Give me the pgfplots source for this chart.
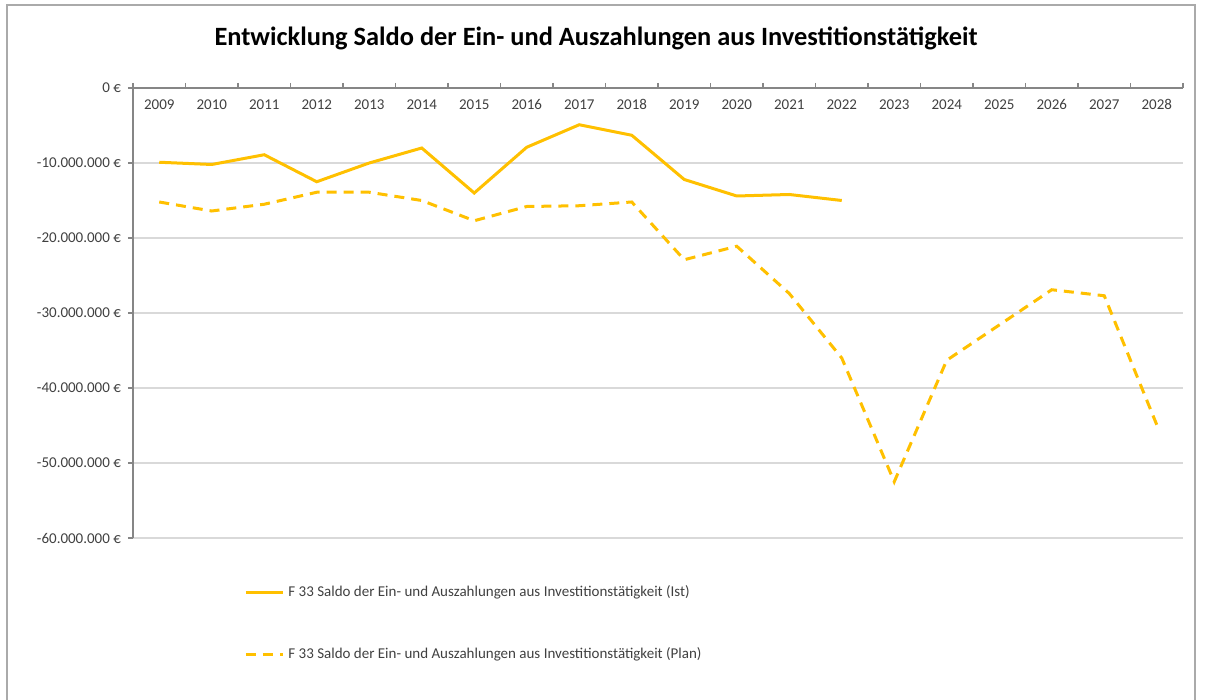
\documentclass[border=0pt]{standalone}
\usepackage{fontspec}
\setmainfont{Carlito}
\usepackage{pgfplots}
\pgfplotsset{compat=1.18}
\definecolor{gold}{RGB}{255,192,0}
\definecolor{axgray}{RGB}{134,134,134}
\definecolor{gridgray}{RGB}{217,217,217}
\definecolor{framegray}{RGB}{170,170,170}
\definecolor{txt}{RGB}{64,64,64}

\begin{document}
\begin{tikzpicture}
\useasboundingbox (-66.5pt,-81pt) rectangle (536.5pt,269pt);
\draw[framegray, line width=0.6pt] (-63pt,-90pt) -- (-63pt,266.5pt) -- (531pt,266.5pt) -- (531pt,-90pt);
\begin{axis}[
  scale only axis, width=525pt, height=225pt,
  xmin=-0.5, xmax=19.5, ymin=-60000000, ymax=0,
  axis x line*=top, axis y line*=left,
  axis line style={axgray, line width=0.6pt, -},
  tick align=outside, major tick length=2.5pt,
  tick style={axgray, line width=0.6pt},
  xtick={-0.5,0.5,...,19.5},
  xticklabels={2009,2010,2011,2012,2013,2014,2015,2016,2017,2018,2019,2020,2021,2022,2023,2024,2025,2026,2027,2028,{}},
  xticklabel style={anchor=base, xshift=13.125pt, yshift=-13.5pt, font=\fontsize{7.5}{9}\selectfont, text=txt},
  ytick={-60000000,-50000000,-40000000,-30000000,-20000000,-10000000,0},
  yticklabels={-60.000.000 €,-50.000.000 €,-40.000.000 €,-30.000.000 €,-20.000.000 €,-10.000.000 €,0 €},
  yticklabel style={font=\fontsize{7.5}{9}\selectfont, text=txt},
  scaled y ticks=false,
  ymajorgrids, grid style={gridgray, line width=0.6pt},
  legend style={at={(0.1,-0.087)}, anchor=north west, draw=none, fill=none,
    font=\fontsize{7.5}{9}\selectfont, text=txt, row sep=20pt},
  legend cell align=left,
  legend image code/.code={\draw[#1] (0pt,0pt) -- (18.5pt,0pt);},
  clip=false,
]
\addplot[gold, line width=1.5pt] coordinates {
  (0,-9900000) (1,-10200000) (2,-8900000) (3,-12500000) (4,-10000000)
  (5,-8000000) (6,-14000000) (7,-7900000) (8,-4900000) (9,-6300000)
  (10,-12200000) (11,-14400000) (12,-14200000) (13,-15000000)
};
\addplot[gold, line width=1.5pt, dash pattern=on 5pt off 3.5pt] coordinates {
  (0,-15200000) (1,-16400000) (2,-15500000) (3,-13900000) (4,-13900000)
  (5,-15000000) (6,-17700000) (7,-15800000) (8,-15700000) (9,-15200000)
  (10,-22900000) (11,-21100000) (12,-27400000) (13,-36000000) (14,-52500000)
  (15,-36300000) (16,-31600000) (17,-26900000) (18,-27700000) (19,-44900000)
};
\legend{F 33 Saldo der Ein- und Auszahlungen aus Investitionstätigkeit (Ist),
        F 33 Saldo der Ein- und Auszahlungen aus Investitionstätigkeit (Plan)}
\node[font=\bfseries\fontsize{13.2}{16}\selectfont, anchor=center] at (231.5pt,250pt)
  {Entwicklung Saldo der Ein- und Auszahlungen aus Investitionstätigkeit};
\end{axis}
\end{tikzpicture}
\end{document}
